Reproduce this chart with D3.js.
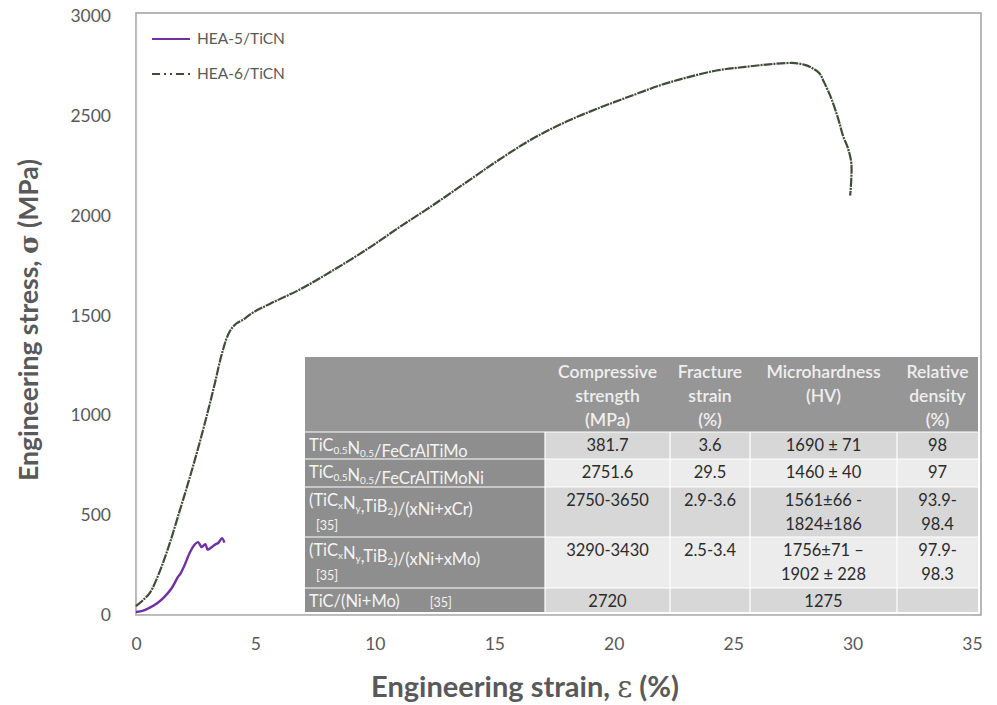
<!DOCTYPE html>
<html><head><meta charset="utf-8">
<script src="https://cdn.jsdelivr.net/npm/d3@7"></script>
<style>body{margin:0;background:#fff}svg{display:block}</style>
</head><body>
<svg id="c" width="997" height="705"></svg>
<script>
// ---- data ----
const strain6 = [0, 0.3, 0.6, 1.0, 1.4, 1.8, 2.2, 2.6, 3.0, 3.3, 3.6, 3.9, 4.2, 4.5, 4.9, 5.6, 6.9, 8.3, 9.7, 11.0, 12.4, 13.8, 15.2, 16.6, 18.0, 19.4, 20.8, 22.0, 23.0, 24.3, 25.5, 26.5, 27.2, 27.6, 28.0, 28.3, 28.6, 28.8, 29.1, 29.4, 29.6, 29.8, 29.95, 29.9];
const stress6 = [45, 75, 115, 220, 355, 510, 668, 835, 1015, 1160, 1310, 1415, 1460, 1480, 1515, 1558, 1633, 1730, 1834, 1940, 2050, 2165, 2280, 2385, 2470, 2540, 2603, 2655, 2690, 2727, 2745, 2758, 2764, 2764, 2755, 2740, 2715, 2670, 2590, 2485, 2400, 2340, 2260, 2100];
const strain5 = [0, 0.3, 0.6, 0.9, 1.2, 1.5, 1.75, 1.85, 2.0, 2.25, 2.45, 2.6, 2.75, 2.9, 3.0, 3.15, 3.3, 3.45, 3.6, 3.7];
const stress5 = [15, 22, 38, 60, 92, 135, 190, 205, 240, 312, 352, 365, 340, 355, 328, 338, 352, 362, 385, 362];
const seriesNames = ["HEA-5/TiCN", "HEA-6/TiCN"];
const xTicks = [0, 5, 10, 15, 20, 25, 30, 35];
const yTicks = [0, 500, 1000, 1500, 2000, 2500, 3000];
const tableHeader = [[""], ["Compressive", "strength", "(MPa)"], ["Fracture", "strain", "(%)"], ["Microhardness", "(HV)"], ["Relative", "density", "(%)"]];
const tableMaterials = [["TiC_{0.5}N_{0.5}/FeCrAlTiMo"], ["TiC_{0.5}N_{0.5}/FeCrAlTiMoNi"], ["(TiC_{x}N_{y},TiB_{2})/(xNi+xCr)", "[35]"], ["(TiC_{x}N_{y},TiB_{2})/(xNi+xMo)", "[35]"], ["TiC/(Ni+Mo)^[35]"]];
const tableStrength = [["381.7"], ["2751.6"], ["2750-3650"], ["3290-3430"], ["2720"]];
const tableStrain = [["3.6"], ["29.5"], ["2.9-3.6"], ["2.5-3.4"], [""]];
const tableHardness = [["1690 ± 71"], ["1460 ± 40"], ["1561±66 -", "1824±186"], ["1756±71 –", "1902 ± 228"], ["1275"]];
const tableDensity = [["98"], ["97"], ["93.9-", "98.4"], ["97.9-", "98.3"], [""]];

// ---- layout ----
const FONT = "Lato, 'Open Sans', sans-serif";
const svg = d3.select("#c");
const x = d3.scaleLinear().domain([0, 35]).range([136, 972]);
const y = d3.scaleLinear().domain([0, 3000]).range([615, 16]);

// frame
svg.append("rect").attr("x", 136).attr("y", 13).attr("width", 981 - 136).attr("height", 615 - 13)
  .attr("fill", "none").attr("stroke", "#a0a0a0").attr("stroke-width", 1.5);

// axes
const xa = svg.append("g").attr("transform", `translate(0,${y(0)})`)
  .call(d3.axisBottom(x).tickValues(xTicks).tickSize(0).tickPadding(23).tickFormat(d3.format("d")));
const ya = svg.append("g").attr("transform", `translate(${x(0)},0)`)
  .call(d3.axisLeft(y).tickValues(yTicks).tickSize(0).tickPadding(25).tickFormat(d3.format("d")));
[xa, ya].forEach(g => {
  g.select(".domain").attr("stroke", "#bfbfbf").attr("stroke-width", 1.2);
  g.selectAll("text").attr("font-family", FONT).attr("font-size", 17.5).attr("fill", "#595959");
});

// axis titles
const xt = svg.append("text").attr("x", 525).attr("y", 697).attr("text-anchor", "middle")
  .attr("font-family", FONT).attr("font-size", 29).attr("font-weight", "bold").attr("fill", "#595959");
xt.append("tspan").text("Engineering strain, ");
xt.append("tspan").attr("font-family", "'DejaVu Serif', serif").attr("font-weight", "normal").text("ε");
xt.append("tspan").text(" (%)");
const yt = svg.append("text").attr("transform", "translate(38,320) rotate(-90)").attr("text-anchor", "middle")
  .attr("font-family", FONT).attr("font-size", 26.5).attr("font-weight", "bold").attr("fill", "#595959");
yt.append("tspan").text("Engineering stress, ");
yt.append("tspan").attr("font-family", "'DejaVu Serif', serif").text("σ");
yt.append("tspan").text(" (MPa)");

// ---- table ----
const colX = [305, 545, 670, 750, 897, 978];
const rowY = [357, 432, 459, 487, 537, 588, 612];
const tbl = svg.append("g");
// header
tbl.append("rect").attr("x", colX[0]).attr("y", rowY[0]).attr("width", colX[5] - colX[0]).attr("height", rowY[1] - rowY[0]).attr("fill", "#969696");
tableHeader.forEach((lines, i) => {
  if (i === 0) return;
  const cx = (colX[i] + colX[i + 1]) / 2;
  lines.forEach((t, k) => {
    tbl.append("text").attr("x", cx).attr("y", 378 + k * 24).attr("text-anchor", "middle")
      .attr("font-family", FONT).attr("font-size", 17.5).attr("font-weight", 600).attr("fill", "#efefef").text(t);
  });
});
const bodyCols = [tableStrength, tableStrain, tableHardness, tableDensity];
const rowFill = ["#d7d7d7", "#ececec", "#d7d7d7", "#ececec", "#d7d7d7"];
for (let r = 0; r < 5; r++) {
  const y0 = rowY[r + 1], y1 = rowY[r + 2];
  tbl.append("rect").attr("x", colX[0]).attr("y", y0).attr("width", colX[1] - colX[0]).attr("height", y1 - y0).attr("fill", "#8e8e8e");
  tbl.append("rect").attr("x", colX[1]).attr("y", y0).attr("width", colX[5] - colX[1]).attr("height", y1 - y0).attr("fill", rowFill[r]);
  // material label
  tableMaterials[r].forEach((line, k) => {
    const isRef = k > 0;
    const t = tbl.append("text").attr("x", isRef ? 316 : 309).attr("y", y0 + 19 + k * 24)
      .attr("font-family", FONT).attr("font-size", isRef ? 12.5 : 16.5).attr("fill", "#f4f4f4");
    const parts = line.split(/(_\{[^}]*\}|\^\[[^\]]*\])/).filter(s => s.length);
    parts.forEach(p => {
      if (p.startsWith("_{")) {
        t.append("tspan").attr("font-size", 10).attr("dy", 3).text(p.slice(2, -1));
        t.append("tspan").attr("dy", -3).text("");
      } else if (p.startsWith("^[")) {
        t.append("tspan").attr("font-size", 12.5).attr("dx", 30).text(p.slice(1));
      } else {
        t.append("tspan").text(p);
      }
    });
  });
  bodyCols.forEach((col, c) => {
    const cx = (colX[c + 1] + colX[c + 2]) / 2;
    col[r].forEach((line, k) => {
      tbl.append("text").attr("x", cx).attr("y", y0 + 19 + k * 24).attr("text-anchor", "middle")
        .attr("font-family", FONT).attr("font-size", 16.5).attr("fill", "#2b2b2b").text(line);
    });
  });
}
// white grid lines
rowY.slice(1, 6).forEach(yy => tbl.append("line").attr("x1", colX[0]).attr("x2", colX[5]).attr("y1", yy).attr("y2", yy).attr("stroke", "#fff").attr("stroke-width", 1.2));
colX.slice(1, 5).forEach(xx => tbl.append("line").attr("x1", xx).attr("x2", xx).attr("y1", rowY[1]).attr("y2", rowY[6]).attr("stroke", "#fff").attr("stroke-width", 1.2));

// ---- curves ----
const line = d3.line().x(d => x(d[0])).y(d => y(d[1])).curve(d3.curveCatmullRom.alpha(0.5));
const d6 = strain6.map((s, i) => [s, stress6[i]]);
const d5 = strain5.map((s, i) => [s, stress5[i]]);
svg.append("path").datum(d6).attr("d", line).attr("fill", "none").attr("stroke", "#3f4c38")
  .attr("stroke-width", 2.2).attr("stroke-dasharray", "9,1,2,1");
svg.append("path").datum(d5).attr("d", line).attr("fill", "none").attr("stroke", "#7030a0")
  .attr("stroke-width", 2.4);

// ---- legend ----
const lg = svg.append("g");
lg.append("line").attr("x1", 152).attr("x2", 190).attr("y1", 39).attr("y2", 39).attr("stroke", "#7030a0").attr("stroke-width", 2.2);
lg.append("line").attr("x1", 152).attr("x2", 190).attr("y1", 74).attr("y2", 74).attr("stroke", "#3f4c38").attr("stroke-width", 2).attr("stroke-dasharray", "8,4,2,4,2,4");
seriesNames.forEach((n, i) => {
  lg.append("text").attr("x", 197).attr("y", 44 + i * 35).attr("font-family", FONT).attr("font-size", 15.5)
    .attr("fill", "#595959").text(n);
});
</script>
</body></html>
